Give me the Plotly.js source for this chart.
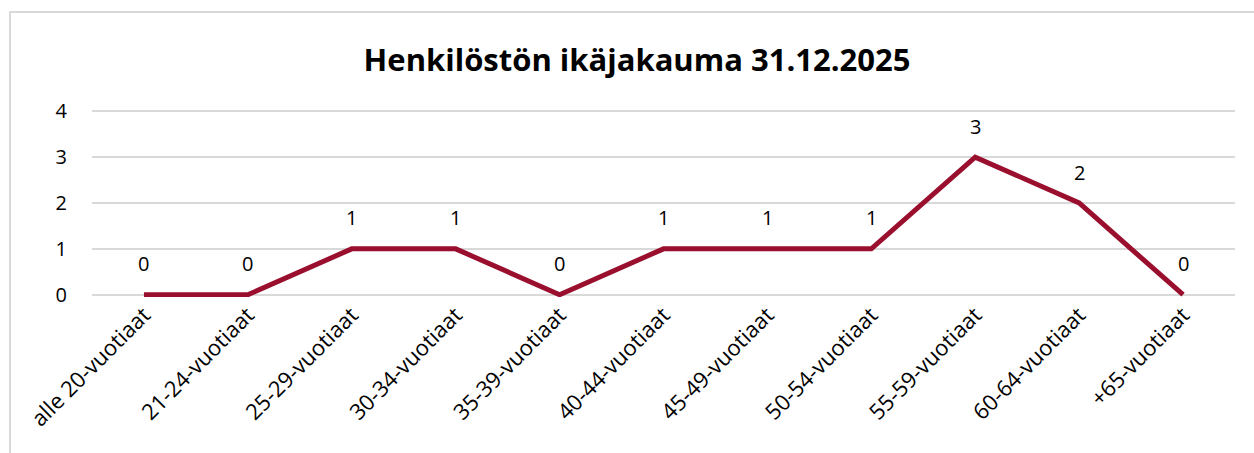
<!DOCTYPE html>
<html><head><meta charset="utf-8">
<script src="https://cdn.plot.ly/plotly-3.0.1.min.js"></script>
<style>
html,body{margin:0;padding:0;background:#fff;overflow:hidden}
#wrap{position:relative;width:1254px;height:453px}
#chart{width:1254px;height:453px}
#frame{position:absolute;left:9px;top:11px;width:1260px;height:500px;border:2px solid #d9d9d9;pointer-events:none;box-sizing:border-box}
</style></head>
<body>
<div id="wrap"><div id="chart"></div><div id="frame"></div></div>
<script>
const categories = ["alle 20-vuotiaat","21-24-vuotiaat","25-29-vuotiaat","30-34-vuotiaat","35-39-vuotiaat","40-44-vuotiaat","45-49-vuotiaat","50-54-vuotiaat","55-59-vuotiaat","60-64-vuotiaat","+65-vuotiaat"];
const values = [0,0,1,1,0,1,1,1,3,2,0];
const yTicks = [0,1,2,3,4];
const titleText = "Henkilöstön ikäjakauma 31.12.2025";

const FONT = "Open Sans, Noto Sans, sans-serif";
const trace = {
  x: categories, y: values, type: "scatter", mode: "lines",
  line: {color: "#990f2d", width: 5}, cliponaxis: false, hoverinfo: "skip"
};
const annotations = categories.map((c, i) => ({
  x: c, y: values[i], xref: "x", yref: "y", text: String(values[i]),
  showarrow: false, yshift: 31, font: {family: FONT, size: 20, color: "#000"}
}));
const pad = 0.05;
const layout = {
  width: 1254, height: 453,
  margin: {l: 92, r: 19, t: 108.7, b: 155.7},
  paper_bgcolor: "#fff", plot_bgcolor: "#fff",
  showlegend: false,
  title: {text: "<b>" + titleText + "</b>", x: 0.508, xanchor: "center", y: 1 - 60/453, yanchor: "middle",
          font: {family: FONT, size: 31, color: "#000"}},
  xaxis: {type: "category", range: [-0.5, 10.5], showgrid: false, zeroline: false, showline: false,
          tickangle: -45, ticks: "", tickfont: {family: FONT, size: 22, color: "#000"}, fixedrange: true},
  yaxis: {range: [-pad, 4 + pad], tickvals: yTicks, showgrid: true, gridcolor: "#d9d9d9", gridwidth: 2,
          zeroline: false, showline: false, ticks: "", ticklabelstandoff: 24,
          tickfont: {family: FONT, size: 20, color: "#000"}, fixedrange: true},
  annotations: annotations
};
Plotly.newPlot("chart", [trace], layout, {staticPlot: true, displayModeBar: false});
</script>
</body></html>
